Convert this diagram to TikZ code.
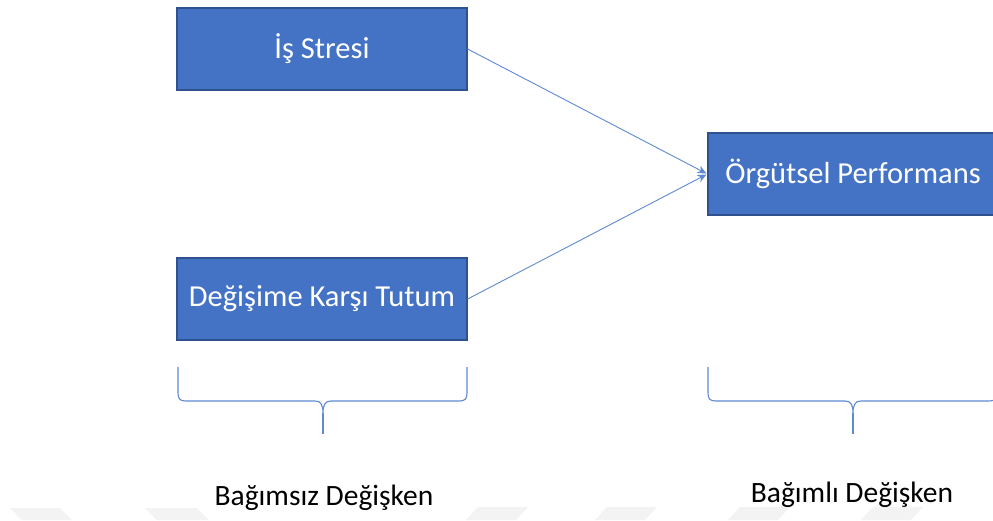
\documentclass[tikz,border=0pt]{standalone}
\usepackage{fontspec}
\setmainfont{Carlito}
\usetikzlibrary{arrows.meta}
\definecolor{boxfill}{HTML}{4472C4}
\definecolor{boxline}{HTML}{2F528F}
\definecolor{linkblue}{HTML}{5F8AD2}
\definecolor{markgray}{HTML}{F3F3F3}
\begin{document}
\begin{tikzpicture}[x=1pt,y=-1pt,
  varbox/.style={rectangle, fill=boxfill, draw=boxline, line width=1.3pt,
    minimum width=290pt, minimum height=82pt, inner sep=0pt,
    text=white, font=\fontsize{30.5}{36}\selectfont},
  link/.style={draw=linkblue, line width=0.9pt,
    -{Stealth[length=9pt,width=8pt]}, shorten >=1pt},
  bracepath/.style={draw=linkblue, line width=1.1pt},
  grouplabel/.style={text=black, inner sep=0pt, font=\fontsize{29.5}{35}\selectfont}]
  \useasboundingbox (0,0) rectangle (993,520);
  \fill[white] (0,0) rectangle (993,520);

  % faint chevrons along the lower edge
  \fill[markgray] (10,508) -- (60,508) -- (72,520) -- (22,520) -- cycle;
  \fill[markgray] (145,508) -- (197,508) -- (209,520) -- (157,520) -- cycle;
  \fill[markgray] (478,507) -- (528,507) -- (516,520) -- (466,520) -- cycle;
  \fill[markgray] (607,507) -- (657,507) -- (645,520) -- (595,520) -- cycle;
  \fill[markgray] (740,507) -- (790,507) -- (778,520) -- (728,520) -- cycle;
  \fill[markgray] (873,507) -- (923,507) -- (911,520) -- (861,520) -- cycle;

  % variables
  \node[varbox] (stress) at (322,49) {İş Stresi};
  \node[varbox] (attitude) at (322,299) {Değişime Karşı Tutum};
  \node[varbox] (perf) at (853,174) {Örgütsel Performans};

  % influences
  \draw[link] (stress.east) -- (perf.west);
  \draw[link] (attitude.east) -- (perf.west);

  % brace under the independent variables
  \draw[bracepath] (178,367) -- (178,393)
    .. controls (178,399) and (180,401) .. (186,401) -- (315,401)
    .. controls (321,401) and (323,405) .. (323,413)
    .. controls (323,405) and (325,401) .. (331,401) -- (459,401)
    .. controls (465,401) and (467,399) .. (467,393) -- (467,367);
  \draw[bracepath] (323,413) -- (323,434);

  % brace under the dependent variable
  \draw[bracepath] (708,367) -- (708,393)
    .. controls (708,399) and (710,401) .. (716,401) -- (845,401)
    .. controls (851,401) and (853,405) .. (853,413)
    .. controls (853,405) and (855,401) .. (861,401) -- (989,401)
    .. controls (995,401) and (997,399) .. (997,393) -- (997,367);
  \draw[bracepath] (853,413) -- (853,434);

  % group labels
  \node[grouplabel] (indep) at (324,498) {Bağımsız Değişken};
  \node[grouplabel] (dep) at (852,495) {Bağımlı Değişken};
\end{tikzpicture}
\end{document}
